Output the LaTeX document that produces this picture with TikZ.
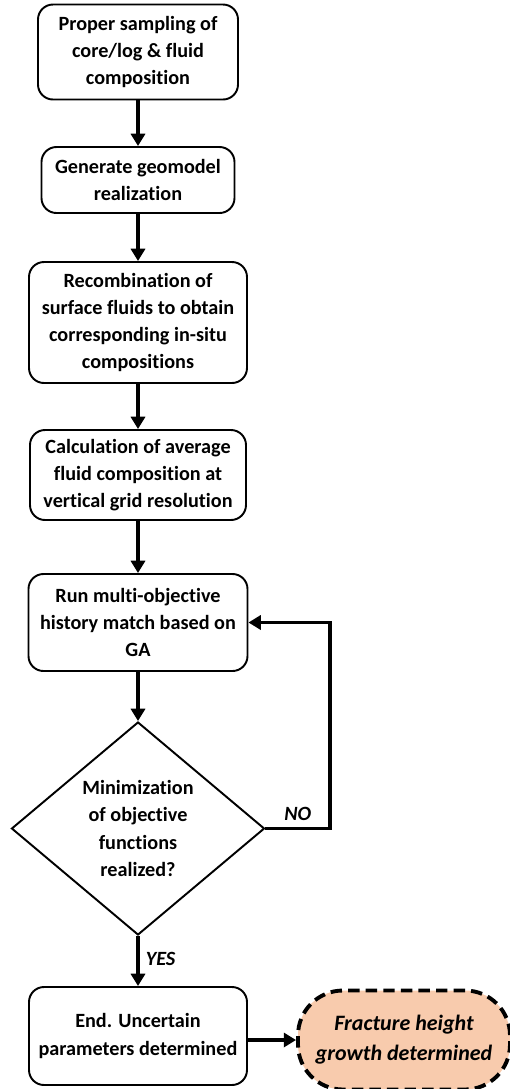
\documentclass[tikz,border=0pt]{standalone}
\usepackage{fontspec}
\setmainfont{Carlito}[Ligatures=NoCommon]
\usetikzlibrary{shapes.geometric,arrows.meta}
\definecolor{peach}{HTML}{F8CBAD}
\tikzset{
  stepbox/.style={draw, rectangle, rounded corners=0.3cm, line width=1.1pt, align=center,
    font=\fontsize{11.5}{15.5}\selectfont\bfseries, inner sep=2pt},
  decision/.style={draw, diamond, line width=1.1pt, align=center, inner sep=0pt,
    font=\fontsize{11.5}{15.5}\selectfont\bfseries},
  result/.style={draw, dashed, dash pattern=on 6.5pt off 3.5pt, line width=2.2pt, fill=peach,
    rectangle, rounded corners=0.9cm, align=center,
    font=\fontsize{12.5}{17}\selectfont\bfseries\itshape},
  flow/.style={-{Triangle[length=7pt,width=8pt]}, line width=2.2pt},
  answer/.style={font=\fontsize{11.5}{14}\selectfont\bfseries\itshape}
}
\begin{document}
\begin{tikzpicture}
\useasboundingbox (0,0) rectangle (10.2,-21.78);
\node[stepbox, minimum width=4.0cm, minimum height=1.9cm] (a) at (2.76,-1.04) {Proper sampling of\\core/log \& fluid\\composition};
\node[stepbox, minimum width=3.86cm, minimum height=1.32cm] (b) at (2.76,-3.6) {Generate geomodel\\realization};
\node[stepbox, minimum width=4.36cm, minimum height=2.42cm] (c) at (2.76,-6.45) {Recombination of\\surface fluids to obtain\\corresponding in-situ\\compositions};
\node[stepbox, minimum width=4.32cm, minimum height=1.8cm] (d) at (2.76,-9.5) {Calculation of average\\fluid composition at\\vertical grid resolution};
\node[stepbox, minimum width=4.38cm, minimum height=1.94cm] (e) at (2.76,-12.45) {Run multi-objective\\history match based on\\GA};
\node[decision, minimum width=5.06cm, minimum height=4.26cm] (f) at (2.76,-16.57) {Minimization\\of objective\\functions\\realized?};
\node[stepbox, minimum width=4.36cm, minimum height=1.96cm] (g) at (2.76,-20.72) {End. Uncertain\\parameters determined};
\node[result, minimum width=4.24cm, minimum height=1.98cm] (h) at (8.08,-20.8) {Fracture height\\growth determined};
\coordinate (loop) at (6.6,-16.57);
\draw[flow] (a) -- (b);
\draw[flow] (b) -- (c);
\draw[flow] (c) -- (d);
\draw[flow] (d) -- (e);
\draw[flow] (e) -- (f);
\draw[flow] (f) -- node[answer, right, pos=0.45] {YES} (g);
\draw[flow] (f.east) -- node[answer, above, pos=0.5] {NO} (loop) |- (e.east);
\draw[flow] (g.east |- h.west) -- (h.west);
\end{tikzpicture}
\end{document}
